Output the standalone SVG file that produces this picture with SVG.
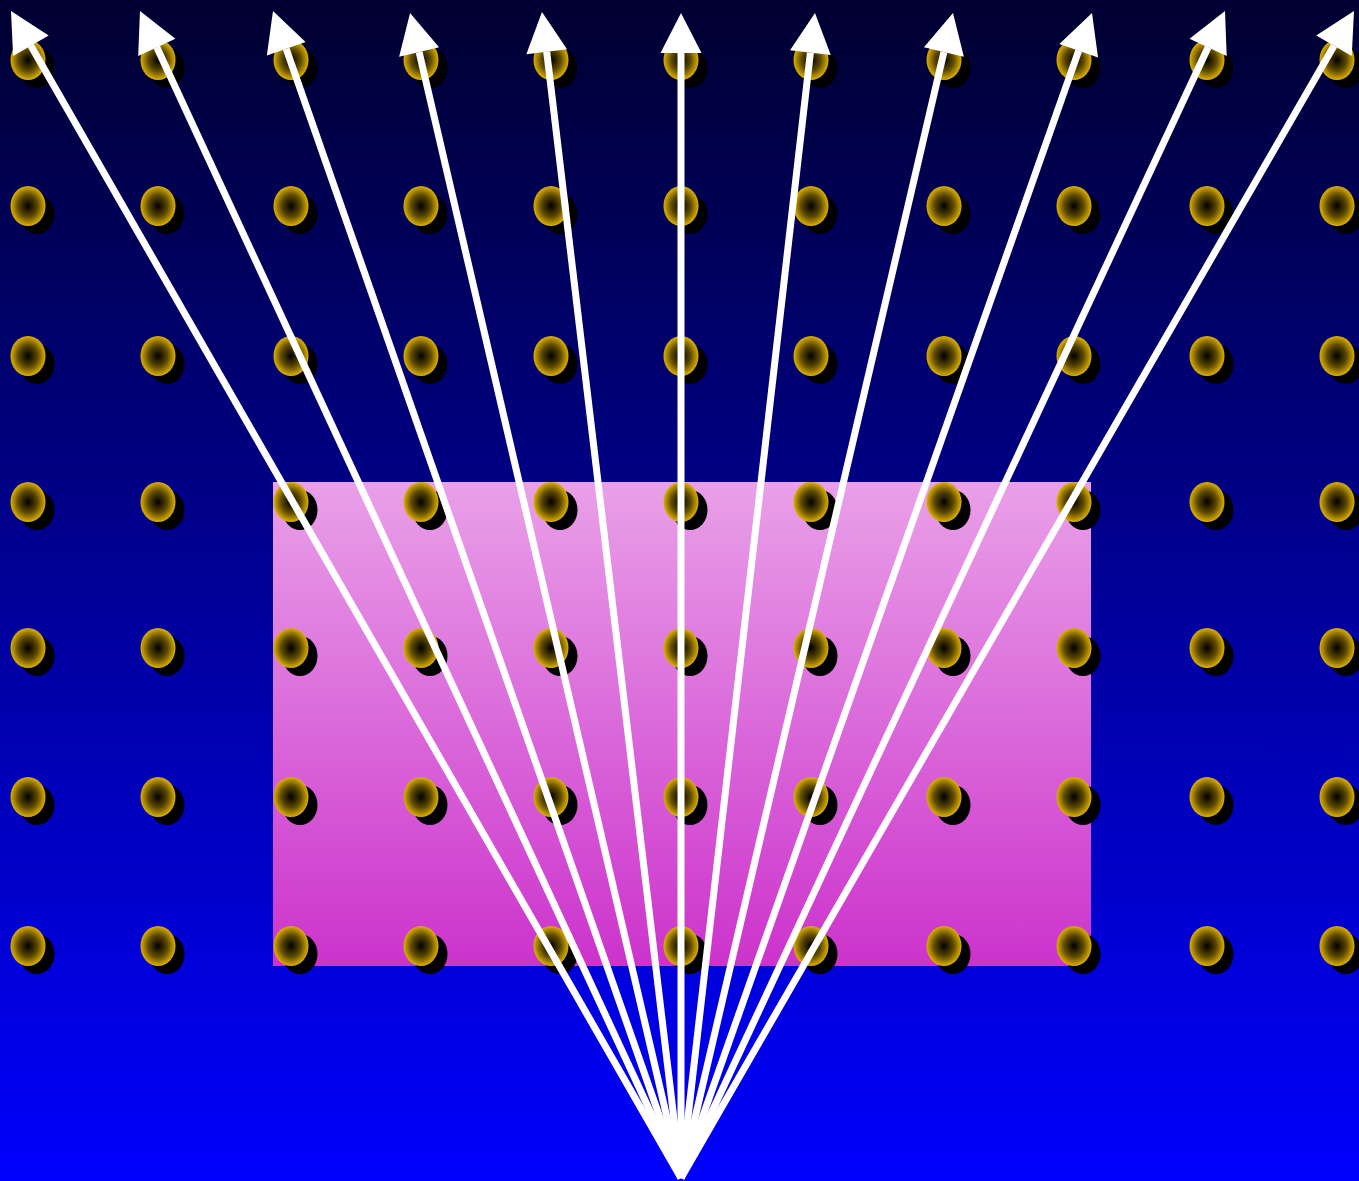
<svg xmlns="http://www.w3.org/2000/svg" xmlns:xlink="http://www.w3.org/1999/xlink" width="1359" height="1181" viewBox="0 0 1359 1181">
<style>
.shadow{fill:#000}
.gold{fill:url(#goldGrad)}
.arrow{stroke:#fff;stroke-width:7;fill:none;marker-end:url(#head)}
</style>
<defs>
<linearGradient id="bg" x1="0" y1="0" x2="0" y2="1">
<stop offset="0" stop-color="#000030"/>
<stop offset="1" stop-color="#0000ff"/>
</linearGradient>
<linearGradient id="pink" x1="0" y1="0" x2="0" y2="1">
<stop offset="0" stop-color="#e9a0e8"/>
<stop offset="1" stop-color="#cc33cc"/>
</linearGradient>
<radialGradient id="goldGrad" cx="0.5" cy="0.5" r="0.5">
<stop offset="0" stop-color="#000000"/>
<stop offset="0.55" stop-color="#5e4a00"/>
<stop offset="1" stop-color="#dcb000"/>
</radialGradient>
<g id="dot">
<ellipse class="shadow" cx="9" cy="8" rx="17.5" ry="20"/>
<ellipse class="gold" cx="0" cy="0" rx="17.5" ry="20"/>
</g>
<marker id="head" markerUnits="userSpaceOnUse" viewBox="0 -21 41 42" markerWidth="41" markerHeight="42" refX="0" refY="0" orient="auto" overflow="visible">
<path d="M0,-20.5 L40,0 L0,20.5 z" fill="#fff"/>
</marker>
</defs>
<rect id="background" x="0" y="0" width="1359" height="1181" fill="url(#bg)"/>
<rect id="panel" x="273" y="482" width="818" height="484" fill="url(#pink)"/>
<g id="dots">
<g id="row1"><use xlink:href="#dot" x="28" y="60"/><use xlink:href="#dot" x="158" y="60"/><use xlink:href="#dot" x="291" y="60"/><use xlink:href="#dot" x="421" y="60"/><use xlink:href="#dot" x="551" y="60"/><use xlink:href="#dot" x="681" y="60"/><use xlink:href="#dot" x="811" y="60"/><use xlink:href="#dot" x="944" y="60"/><use xlink:href="#dot" x="1074" y="60"/><use xlink:href="#dot" x="1207" y="60"/><use xlink:href="#dot" x="1337" y="60"/></g>
<g id="row2"><use xlink:href="#dot" x="28" y="206"/><use xlink:href="#dot" x="158" y="206"/><use xlink:href="#dot" x="291" y="206"/><use xlink:href="#dot" x="421" y="206"/><use xlink:href="#dot" x="551" y="206"/><use xlink:href="#dot" x="681" y="206"/><use xlink:href="#dot" x="811" y="206"/><use xlink:href="#dot" x="944" y="206"/><use xlink:href="#dot" x="1074" y="206"/><use xlink:href="#dot" x="1207" y="206"/><use xlink:href="#dot" x="1337" y="206"/></g>
<g id="row3"><use xlink:href="#dot" x="28" y="356"/><use xlink:href="#dot" x="158" y="356"/><use xlink:href="#dot" x="291" y="356"/><use xlink:href="#dot" x="421" y="356"/><use xlink:href="#dot" x="551" y="356"/><use xlink:href="#dot" x="681" y="356"/><use xlink:href="#dot" x="811" y="356"/><use xlink:href="#dot" x="944" y="356"/><use xlink:href="#dot" x="1074" y="356"/><use xlink:href="#dot" x="1207" y="356"/><use xlink:href="#dot" x="1337" y="356"/></g>
<g id="row4"><use xlink:href="#dot" x="28" y="502"/><use xlink:href="#dot" x="158" y="502"/><use xlink:href="#dot" x="291" y="502"/><use xlink:href="#dot" x="421" y="502"/><use xlink:href="#dot" x="551" y="502"/><use xlink:href="#dot" x="681" y="502"/><use xlink:href="#dot" x="811" y="502"/><use xlink:href="#dot" x="944" y="502"/><use xlink:href="#dot" x="1074" y="502"/><use xlink:href="#dot" x="1207" y="502"/><use xlink:href="#dot" x="1337" y="502"/></g>
<g id="row5"><use xlink:href="#dot" x="28" y="648"/><use xlink:href="#dot" x="158" y="648"/><use xlink:href="#dot" x="291" y="648"/><use xlink:href="#dot" x="421" y="648"/><use xlink:href="#dot" x="551" y="648"/><use xlink:href="#dot" x="681" y="648"/><use xlink:href="#dot" x="811" y="648"/><use xlink:href="#dot" x="944" y="648"/><use xlink:href="#dot" x="1074" y="648"/><use xlink:href="#dot" x="1207" y="648"/><use xlink:href="#dot" x="1337" y="648"/></g>
<g id="row6"><use xlink:href="#dot" x="28" y="797"/><use xlink:href="#dot" x="158" y="797"/><use xlink:href="#dot" x="291" y="797"/><use xlink:href="#dot" x="421" y="797"/><use xlink:href="#dot" x="551" y="797"/><use xlink:href="#dot" x="681" y="797"/><use xlink:href="#dot" x="811" y="797"/><use xlink:href="#dot" x="944" y="797"/><use xlink:href="#dot" x="1074" y="797"/><use xlink:href="#dot" x="1207" y="797"/><use xlink:href="#dot" x="1337" y="797"/></g>
<g id="row7"><use xlink:href="#dot" x="28" y="946"/><use xlink:href="#dot" x="158" y="946"/><use xlink:href="#dot" x="291" y="946"/><use xlink:href="#dot" x="421" y="946"/><use xlink:href="#dot" x="551" y="946"/><use xlink:href="#dot" x="681" y="946"/><use xlink:href="#dot" x="811" y="946"/><use xlink:href="#dot" x="944" y="946"/><use xlink:href="#dot" x="1074" y="946"/><use xlink:href="#dot" x="1207" y="946"/><use xlink:href="#dot" x="1337" y="946"/></g>
</g>
<g id="connectors">
<line class="arrow" x1="681" y1="1178" x2="30.9" y2="45.7"/>
<line class="arrow" x1="681" y1="1178" x2="156.8" y2="47.3"/>
<line class="arrow" x1="681" y1="1178" x2="286.2" y2="48.8"/>
<line class="arrow" x1="681" y1="1178" x2="419.1" y2="52.0"/>
<line class="arrow" x1="681" y1="1178" x2="546.7" y2="51.7"/>
<line class="arrow" x1="681" y1="1178" x2="681" y2="53"/>
<line class="arrow" x1="681" y1="1178" x2="810.4" y2="52.7"/>
<line class="arrow" x1="681" y1="1178" x2="943.9" y2="52.0"/>
<line class="arrow" x1="681" y1="1178" x2="1078.7" y2="50.7"/>
<line class="arrow" x1="681" y1="1178" x2="1208.1" y2="47.3"/>
<line class="arrow" x1="681" y1="1178" x2="1334.0" y2="45.7"/>
</g>
</svg>
